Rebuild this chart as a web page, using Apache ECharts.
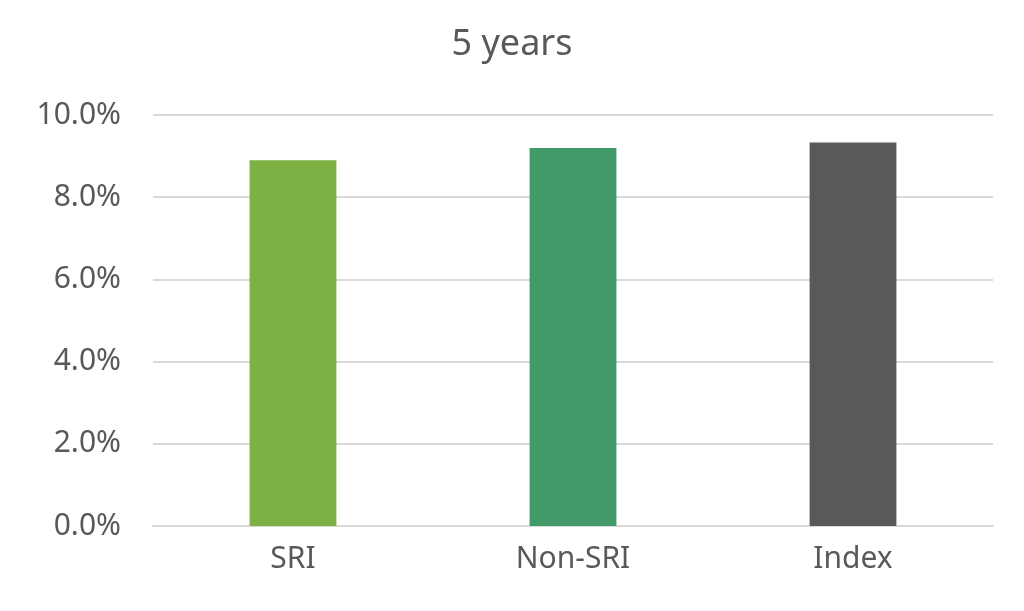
<!DOCTYPE html><html><head><meta charset="utf-8"><script src="https://cdn.jsdelivr.net/npm/echarts@6/dist/echarts.min.js"></script></head><body style="margin:0"><div id="c" style="width:1024px;height:611px"></div><script>
const categories=["SRI","Non-SRI","Index"];
const values=[8.9,9.2,9.33];
const colors=["#7db143","#429a69","#595959"];
const c=echarts.init(document.getElementById('c'));
c.setOption({animation:false,
title:{text:"5 years",left:'center',top:22,textStyle:{fontFamily:'Noto Sans',fontWeight:'normal',fontSize:36,color:'#595959'}},
grid:{left:153,right:31,top:115,bottom:85},
xAxis:{type:'category',data:categories,axisTick:{show:false},axisLine:{lineStyle:{color:'#d9d9d9',width:2}},axisLabel:{fontFamily:'Noto Sans',fontSize:30,color:'#595959',margin:18}},
yAxis:{type:'value',min:0,max:10,interval:2,axisLabel:{formatter:v=>v.toFixed(1)+'%',fontFamily:'Noto Sans',fontSize:30,color:'#595959',margin:32},splitLine:{lineStyle:{color:'#d9d9d9',width:2}}},
series:[{type:'bar',barWidth:'31%',data:values.map((v,i)=>({value:v,itemStyle:{color:colors[i]}}))}]});
</script></body></html>
